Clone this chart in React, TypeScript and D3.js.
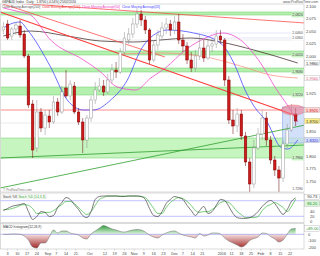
import React from "react";
import * as d3 from "d3";

const FONT = "'Liberation Sans', Arial, sans-serif";

// ---------------- data ----------------
const firstCandle = "2015-07-31";
const candleStepDays = 3;
const xDomain = ["2015-07-30", "2016-02-27"];

const opens = [
  2.052, 2.064, 2.040, 2.054, 2.060, 2.044, 2.000, 1.904, 1.816, 1.888,
  1.856, 1.880, 1.868, 1.908, 1.888, 1.936, 1.920, 1.940, 1.888, 1.868,
  1.832, 1.876, 1.912, 1.932, 1.940, 1.928, 1.952, 1.972, 1.968, 2.008,
  2.032, 2.044, 2.064, 2.084, 2.072, 2.052, 1.992, 2.022, 2.040, 2.056,
  2.064, 2.052, 2.068, 2.032, 2.020, 1.992, 1.976, 2.000, 2.016, 1.996,
  2.020, 2.024, 2.040, 2.032, 1.952, 1.872, 1.860, 1.884, 1.840, 1.788,
  1.744, 1.816, 1.844, 1.876, 1.832, 1.792, 1.772, 1.756, 1.824, 1.852,
  1.884,
];
const highs = [
  2.068, 2.072, 2.058, 2.068, 2.072, 2.052, 2.004, 1.912, 1.912, 1.896,
  1.892, 1.892, 1.920, 1.916, 1.940, 1.972, 1.952, 1.948, 1.896, 1.876,
  1.882, 1.920, 1.948, 1.956, 1.952, 1.964, 1.984, 1.988, 2.016, 2.048,
  2.056, 2.076, 2.096, 2.092, 2.080, 2.056, 2.032, 2.052, 2.068, 2.076,
  2.072, 2.080, 2.084, 2.044, 2.028, 2.008, 2.012, 2.044, 2.032, 2.032,
  2.036, 2.052, 2.052, 2.036, 1.960, 1.892, 1.896, 1.892, 1.848, 1.796,
  1.832, 1.856, 1.892, 1.888, 1.840, 1.800, 1.780, 1.832, 1.864, 1.904,
  1.896,
];
const lows = [
  2.044, 2.032, 2.032, 2.042, 2.036, 1.996, 1.896, 1.796, 1.808, 1.848,
  1.842, 1.856, 1.864, 1.880, 1.884, 1.916, 1.912, 1.884, 1.862, 1.806,
  1.816, 1.868, 1.904, 1.928, 1.920, 1.924, 1.944, 1.956, 1.964, 2.000,
  2.024, 2.036, 2.056, 2.060, 2.044, 1.984, 1.988, 2.012, 2.032, 2.044,
  2.040, 2.044, 2.024, 2.008, 1.984, 1.968, 1.968, 1.992, 1.988, 1.992,
  2.008, 2.016, 2.024, 1.940, 1.864, 1.844, 1.848, 1.832, 1.780, 1.728,
  1.736, 1.812, 1.832, 1.820, 1.784, 1.760, 1.728, 1.748, 1.816, 1.848,
  1.860,
];
const closes = [
  2.058, 2.036, 2.054, 2.062, 2.042, 2.000, 1.902, 1.812, 1.888, 1.856,
  1.882, 1.868, 1.908, 1.888, 1.928, 1.920, 1.944, 1.888, 1.868, 1.832,
  1.876, 1.912, 1.932, 1.940, 1.928, 1.952, 1.972, 1.968, 2.008, 2.036,
  2.044, 2.064, 2.084, 2.072, 2.052, 1.992, 2.022, 2.042, 2.056, 2.064,
  2.052, 2.068, 2.032, 2.020, 1.992, 1.976, 2.000, 2.016, 1.996, 2.020,
  2.024, 2.040, 2.032, 1.952, 1.872, 1.860, 1.884, 1.840, 1.788, 1.744,
  1.816, 1.844, 1.876, 1.832, 1.792, 1.772, 1.756, 1.824, 1.852, 1.884,
  1.870,
];

// moving averages: [candle index, price]
const ma20: [number, number][] = [
  [0, 2.056], [1.7, 2.064], [4, 2.068], [5.8, 2.052], [11.3, 1.978], [15.3, 1.912],
  [19.2, 1.892], [21.6, 1.892], [25.7, 1.912], [29.7, 1.952], [32.9, 2.012], [36, 2.042],
  [39.3, 2.052], [45.6, 2.046], [52, 2.026], [55.2, 1.986], [58, 1.93], [60, 1.9],
  [63.3, 1.866], [66.4, 1.818], [68.1, 1.814], [70.5, 1.832],
];
const ma50: [number, number][] = [
  [0, 2.096], [4, 2.088], [6.5, 2.082], [11.3, 2.032], [19.2, 1.992], [23.3, 1.968],
  [27.3, 1.938], [31.7, 1.932], [35.3, 1.956], [38.8, 1.976], [43.6, 2.012], [48.4, 2.036],
  [52.5, 2.046], [56.8, 2.032], [61.6, 1.986], [65.2, 1.936], [68.8, 1.892], [70.5, 1.868],
];
const ma100: [number, number][] = [
  [28, 2.004], [37.6, 2.006], [47.2, 2.0], [56.8, 1.98], [64, 1.962], [70.5, 1.956],
];
const ma200: [number, number][] = [
  [0, 2.04], [6.5, 2.05], [15.3, 2.04], [23.3, 2.03], [31.2, 2.028], [37.6, 2.032],
  [44.8, 2.036], [52, 2.028], [60, 2.012], [70.5, 1.986],
];

// trend lines: [[idx, price], [idx, price]]
const redTrends: [number, number][][] = [
  [[-0.8, 2.088], [70.4, 1.88]],
  [[-0.8, 2.106], [38.7, 1.998]],
  [[-0.8, 2.108], [72.3, 2.066]],
];
const greenTrends: [number, number][][] = [
  [[-0.8, 1.736], [72.3, 1.862]],
  [[-0.8, 1.796], [72.3, 1.822]],
];

const bandLows = [2.082, 2.002, 1.968, 1.922, 1.796];
const bandHighs = [2.088, 2.010, 1.976, 1.938, 1.836];
const redLevel = 1.892;
const dottedLevels = [2.032, 1.866];
const fibLevels = [2.046, 2.036];
const boxIdx = [66.8, 72.3];
const boxPrice = [1.826, 1.898];
const ovalIdx = [66.6, 72.3];
const ovalPrice = [1.882, 1.902];

const priceTicks = [2.1, 2.075, 2.05, 2.025, 2.0, 1.975, 1.95, 1.925, 1.9, 1.875, 1.85, 1.825, 1.8, 1.775, 1.75];

const stochK = [
  42, 50, 58, 62, 65, 69, 38, 8, 19, 38,
  35, 19, 23, 54, 73, 92, 85, 65, 46, 23,
  15, 38, 85, 96, 98, 98, 98, 98, 96, 96,
  98, 98, 98, 96, 85, 50, 23, 19, 38, 69,
  85, 96, 92, 85, 62, 42, 23, 42, 58, 31,
  38, 62, 85, 81, 58, 31, 15, 12, 12, 15,
  23, 38, 58, 73, 81, 69, 46, 27, 46, 77,
  90.73,
];
const stochD = [
  46, 46, 50, 54, 62, 65, 62, 50, 31, 31,
  35, 35, 42, 54, 65, 77, 77, 69, 54, 38,
  27, 38, 62, 85, 92, 98, 98, 98, 98, 98,
  98, 98, 98, 96, 92, 73, 50, 31, 31, 54,
  73, 85, 92, 88, 77, 62, 42, 35, 38, 38,
  46, 58, 73, 77, 73, 58, 38, 27, 15, 15,
  15, 19, 42, 58, 65, 73, 65, 54, 38, 58,
  86.2,
];
const stochTicks = [0, 20, 40, 60, 80];

const macdHist = [
  0, 0, 0.0005, 0.0005, 0, -0.0026, -0.0088, -0.0195, -0.0211, -0.0134,
  -0.0134, -0.0042, 0.0066, 0.002, 0.0051, 0.0051, 0.002, 0.0005, -0.0011, -0.0057,
  -0.0072, 0.0005, 0.0051, 0.0097, 0.0135, 0.0112, 0.0082, 0.0066, 0.0043, 0.0035,
  0.0051, 0.0066, 0.0074, 0.0066, 0.0035, -0.0011, -0.0042, -0.0057, -0.0011, 0.002,
  0.0043, 0.0051, 0.002, -0.0011, -0.0026, -0.0042, -0.0057, 0.0012, -0.0026, -0.0011,
  0.002, 0.002, 0.0005, -0.0057, -0.0103, -0.0134, -0.0165, -0.0195, -0.0165, -0.0095,
  -0.0065, -0.0042, 0.002, 0.0012, -0.0034, -0.0072, -0.0118, -0.0088, 0.0005, 0.0082,
  0.0089,
];
const macdTicks = [0, -0.01, -0.02];
const macdTickLabels = ["0", "-100", "-200"];

const xTickDates = [
  "2015-08-03", "2015-08-10", "2015-08-17", "2015-08-24", "2015-09-01", "2015-09-07", "2015-09-14",
  "2015-09-21", "2015-10-01", "2015-10-12", "2015-10-19", "2015-10-26", "2015-11-02", "2015-11-09",
  "2015-11-16", "2015-11-23", "2015-12-01", "2015-12-07", "2015-12-14", "2015-12-21", "2016-01-04",
  "2016-01-11", "2016-01-18", "2016-01-25", "2016-02-01", "2016-02-08", "2016-02-15", "2016-02-22",
];
const xTickLabels = [
  "3", "10", "17", "24", "Sep", "7", "14", "21", "Oct", "12", "19", "26", "Nov", "9",
  "16", "23", "Dec", "7", "14", "21", "2016", "11", "18", "25", "Feb", "8", "15", "22",
];

const legendNames = [
  "Close Moving Average[200]",
  "Close Moving Average[100]",
  "Close Moving Average[50]",
  "Close Moving Average[20]",
];
const legendColors = ["#555555", "#ee3333", "#ee44cc", "#4444ff"];

// ---------------- component ----------------
export default function App() {
  const parse = d3.timeParse("%Y-%m-%d");
  const start = parse(firstCandle) as Date;
  const x = d3
    .scaleTime()
    .domain([parse(xDomain[0]) as Date, parse(xDomain[1]) as Date])
    .range([2, 297]);
  const dateAt = (i: number) => new Date(start.getTime() + i * candleStepDays * 86400000);
  const xi = (i: number) => x(dateAt(i));
  const y = d3.scaleLinear().domain([1.728, 2.104]).range([192, 4]);
  const ys = d3.scaleLinear().domain([0, 100]).range([221.5, 195.5]);
  const ym = d3.scaleLinear().domain([-0.022, 0.016]).range([248.6, 223.9]);

  const PL = 0.5;
  const PR = 304;
  const MT = 4;
  const MB = 192;

  const maLine = d3
    .line<[number, number]>()
    .x((d) => xi(d[0]))
    .y((d) => y(d[1]))
    .curve(d3.curveMonotoneX);
  const straight = d3
    .line<[number, number]>()
    .x((d) => xi(d[0]))
    .y((d) => y(d[1]));

  const stLine = (arr: number[]) =>
    d3
      .line<number>()
      .x((_, i) => xi(i))
      .y((d) => ys(d))
      .curve(d3.curveMonotoneX)(arr) as string;

  const macdArea = d3
    .area<number>()
    .x((_, i) => xi(i))
    .y0(ym(0))
    .y1((d) => ym(d))
    .curve(d3.curveMonotoneX)(macdHist) as string;
  const macdLine = d3
    .line<number>()
    .x((_, i) => xi(i))
    .y((d) => ym(d))
    .curve(d3.curveMonotoneX)(macdHist) as string;

  const fmt4 = d3.format(".4f");
  const fmt3 = d3.format(".3f");

  const axisLabel = (yy: number, text: string, bg: string, fg: string, key: string) => (
    <g key={key}>
      <rect x={304.6} y={yy - 2.7} width={15.2} height={5.4} fill={bg} stroke="#999" strokeWidth={0.3} />
      <text x={312.2} y={yy + 1.5} fontSize={4} textAnchor="middle" fill={fg} fontFamily={FONT}>
        {text}
      </text>
    </g>
  );
  const inLabel = (yy: number, text: string, bg: string, fg: string, key: string) => (
    <g key={key}>
      <rect x={291.5} y={yy - 2.4} width={12.3} height={4.8} fill={bg} />
      <text x={297.6} y={yy + 1.3} fontSize={3.5} textAnchor="middle" fill={fg} fontFamily={FONT}>
        {text}
      </text>
    </g>
  );

  const lastI = closes.length - 1;
  const lastMa20 = ma20[ma20.length - 1][1];
  const lastMa100 = ma100[ma100.length - 1][1];
  const lastMa200 = ma200[ma200.length - 1][1];

  const priceMarks = [lastMa200, lastMa100, redLevel, closes[lastI], lastMa20].map((p) => y(p));
  const freePriceTicks = priceTicks.filter((p) => priceMarks.every((m) => Math.abs(y(p) - m) > 5.6));
  const stK = ys(stochK[lastI]) - 1;
  const stD = ys(stochD[lastI]) + 4.4;
  const freeStochTicks = stochTicks.filter((t) => [stK, stD].every((m) => Math.abs(ys(t) - m) > 5.4));
  const mhY = ym(macdHist[lastI]);
  const freeMacd = macdTicks.map((t, i) => ({ t, l: macdTickLabels[i] })).filter((o) => Math.abs(ym(o.t) - mhY) > 5.4);

  return (
    <svg
      width={320}
      height={256}
      viewBox="0 0 320 256"
      style={{ position: "absolute", left: 0, top: 0, background: "#fff" }}
      fontFamily={FONT}
    >
      <defs>
        <clipPath id="mainClip">
          <rect x={PL} y={MT} width={PR - PL} height={MB - MT} />
        </clipPath>
        <clipPath id="upClip">
          <rect x={PL} y={222} width={PR - PL} height={ym(0) - 222} />
        </clipPath>
        <clipPath id="dnClip">
          <rect x={PL} y={ym(0)} width={PR - PL} height={250 - ym(0)} />
        </clipPath>
        <linearGradient id="gUp" gradientUnits="userSpaceOnUse" x1={0} x2={0} y1={ym(0.014)} y2={ym(0)}>
          <stop offset="0" stopColor="#2f9a3a" />
          <stop offset="1" stopColor="#e2f6e2" />
        </linearGradient>
        <linearGradient id="gDn" gradientUnits="userSpaceOnUse" x1={0} x2={0} y1={ym(0)} y2={ym(-0.021)}>
          <stop offset="0" stopColor="#f6e0e0" />
          <stop offset="1" stopColor="#a32b2b" />
        </linearGradient>
      </defs>

      <rect x={0} y={0} width={320} height={256} fill="#ffffff" />

      {/* ---------- main panel ---------- */}
      <g clipPath="url(#mainClip)">
        {bandLows.map((lo, i) => (
          <g key={"band" + i}>
            <rect
              x={PL}
              y={y(bandHighs[i])}
              width={PR - PL}
              height={y(lo) - y(bandHighs[i])}
              fill={i === 4 ? "#c6f5c0" : "#b4f0ae"}
            />
            <line x1={PL} x2={PR} y1={y(bandHighs[i])} y2={y(bandHighs[i])} stroke="#6cc86c" strokeWidth={0.5} />
            <line x1={PL} x2={PR} y1={y(lo)} y2={y(lo)} stroke="#6cc86c" strokeWidth={0.5} />
          </g>
        ))}
        {dottedLevels.map((p, i) => (
          <line key={"dot" + i} x1={PL} x2={PR} y1={y(p)} y2={y(p)} stroke="#aaaaaa" strokeWidth={0.5} strokeDasharray="1,1" />
        ))}
        {fibLevels.map((p, i) => (
          <line key={"fib" + i} x1={xi(46)} x2={PR} y1={y(p)} y2={y(p)} stroke="#9999ee" strokeWidth={0.5} strokeDasharray="1,1" />
        ))}
        <line x1={PL} x2={PR} y1={y(redLevel)} y2={y(redLevel)} stroke="#ff7070" strokeWidth={0.8} />

        <rect
          x={xi(boxIdx[0])}
          y={y(boxPrice[1])}
          width={xi(boxIdx[1]) - xi(boxIdx[0])}
          height={y(boxPrice[0]) - y(boxPrice[1])}
          fill="#c4d6f7"
          fillOpacity={0.75}
          stroke="#7f9fe0"
          strokeWidth={0.5}
        />

        <path d={maLine(ma200) as string} fill="none" stroke="#4a3636" strokeWidth={0.8} />
        <path d={maLine(ma100) as string} fill="none" stroke="#ff8a7a" strokeWidth={0.7} />
        <path d={maLine(ma50) as string} fill="none" stroke="#f04ccc" strokeWidth={0.8} />
        <path d={maLine(ma20) as string} fill="none" stroke="#4a4aff" strokeWidth={0.8} />

        {redTrends.map((t, i) => (
          <path key={"rt" + i} d={straight(t) as string} fill="none" stroke="#ff3a3a" strokeWidth={i === 0 ? 1.1 : 0.7} />
        ))}
        {greenTrends.map((t, i) => (
          <path key={"gt" + i} d={straight(t) as string} fill="none" stroke="#2ea02e" strokeWidth={0.8} />
        ))}

        {closes.map((c, i) => {
          const o = opens[i];
          const up = c >= o;
          const cx = xi(i);
          const top = y(Math.max(o, c));
          const h = Math.max(0.7, Math.abs(y(o) - y(c)));
          return (
            <g key={"c" + i}>
              <line x1={cx} x2={cx} y1={y(highs[i])} y2={y(lows[i])} stroke={up ? "#8f8f8f" : "#6a0000"} strokeWidth={0.5} />
              <rect
                x={cx - 1.3}
                y={top}
                width={2.6}
                height={h}
                fill={up ? "#ffffff" : "#cc1b1b"}
                stroke={up ? "#8f8f8f" : "#7a0000"}
                strokeWidth={0.45}
              />
            </g>
          );
        })}

        <ellipse
          cx={(xi(ovalIdx[0]) + xi(ovalIdx[1])) / 2}
          cy={(y(ovalPrice[0]) + y(ovalPrice[1])) / 2}
          rx={(xi(ovalIdx[1]) - xi(ovalIdx[0])) / 2}
          ry={(y(ovalPrice[0]) - y(ovalPrice[1])) / 2}
          fill="#f07a8a"
          fillOpacity={0.55}
          stroke="#e05060"
          strokeWidth={0.4}
        />
      </g>
      <rect x={PL} y={MT} width={PR - PL} height={MB - MT} fill="none" stroke="#c4c4c4" strokeWidth={0.6} />

      {/* in-plot labels */}
      {bandLows.map((lo, i) => inLabel(y(lo), fmt4(lo), "#c9f3c4", "#444", "bl" + i))}
      {fibLevels.map((p, i) => inLabel(y(p), fmt4(p), "#ffffff", "#555", "fl" + i))}
      {inLabel(y(d3.min(lows) as number) - 3, fmt4(d3.min(lows) as number), "#ffffff", "#555", "minl")}

      {/* price axis */}
      {freePriceTicks.map((p) => (
        <text key={"pt" + p} x={306} y={y(p) + 1.5} fontSize={4} fill="#444">
          {fmt3(p)}
        </text>
      ))}
      {axisLabel(y(lastMa200), fmt4(lastMa200), "#ffffff", "#333", "al200")}
      {axisLabel(y(lastMa100), fmt4(lastMa100), "#ffffff", "#e0607a", "al100")}
      {axisLabel(y(redLevel), fmt4(redLevel), "#ffd6d6", "#cc2222", "alred")}
      {axisLabel(y(closes[lastI]), fmt4(closes[lastI]), "#fff08a", "#333", "alclose")}
      {axisLabel(y(lastMa20), fmt4(lastMa20), "#d6deff", "#3333cc", "al20")}

      {/* header */}
      <text x={2} y={3.4} fontSize={3.4} fill="#333" textLength={74} lengthAdjust="spacingAndGlyphs">
        GBPAUD Index · Daily · 1.8700 (-0.54%) 25/02/2016
      </text>
      <text x={318} y={3.4} fontSize={3.4} fill="#555" textAnchor="end">
        www.ProRealTime.com
      </text>
      {legendNames.map((n, i) => (
        <text
          key={"lg" + i}
          x={2 + i * 40}
          y={8.2}
          fontSize={3.3}
          fill={legendColors[i]}
          textLength={38}
          lengthAdjust="spacingAndGlyphs"
        >
          {n}
        </text>
      ))}
      <text x={3} y={190.6} fontSize={3.2} fill="#777">
        © ProRealTime.com
      </text>

      {/* ---------- stochastic panel ---------- */}
      <rect x={PL} y={193} width={PR - PL} height={29.5} fill="#fff" stroke="#c4c4c4" strokeWidth={0.6} />
      <line x1={PL} x2={PR} y1={ys(80)} y2={ys(80)} stroke="#9a9aff" strokeWidth={0.6} />
      <line x1={PL} x2={PR} y1={ys(20)} y2={ys(20)} stroke="#9a9aff" strokeWidth={0.6} />
      <path d={stLine(stochD)} fill="none" stroke="#3fb83f" strokeWidth={0.7} />
      <path d={stLine(stochK)} fill="none" stroke="#404040" strokeWidth={0.7} />
      <rect x={2} y={194.3} width={44} height={4.6} fill="#fff" stroke="#cfcfcf" strokeWidth={0.3} />
      <text x={3} y={197.8} fontSize={3.3}>
        <tspan fill="#333">Stoch %K</tspan>
        <tspan fill="#2e9e2e"> Stoch %D (14,3,3)</tspan>
      </text>
      {freeStochTicks.map((t) => (
        <text key={"st" + t} x={310} y={ys(t) + 1.4} fontSize={4} fill="#444">
          {t}
        </text>
      ))}
      {axisLabel(stK, d3.format(".2f")(stochK[lastI]), "#ffffff", "#333", "sk")}
      {axisLabel(stD, d3.format(".2f")(stochD[lastI]), "#d8f5d8", "#2e8e2e", "sd")}

      {/* ---------- MACD panel ---------- */}
      <rect x={PL} y={223.5} width={PR - PL} height={25.5} fill="#fff" stroke="#c4c4c4" strokeWidth={0.6} />
      <path d={macdArea} fill="url(#gUp)" clipPath="url(#upClip)" />
      <path d={macdArea} fill="url(#gDn)" clipPath="url(#dnClip)" />
      <line x1={PL} x2={PR} y1={ym(0)} y2={ym(0)} stroke="#8f8fe8" strokeWidth={0.6} />
      <path d={macdLine} fill="none" stroke="#6b6b6b" strokeWidth={0.5} />
      <rect x={2} y={224.6} width={28} height={4.6} fill="#fff" stroke="#cfcfcf" strokeWidth={0.3} />
      <text x={3} y={228.1} fontSize={3.3} fill="#333">
        MACD histogram(12,26,9)
      </text>
      {freeMacd.map((o, i) => (
        <text key={"mt" + i} x={308} y={ym(o.t) + 1.4} fontSize={4} fill="#444">
          {o.l}
        </text>
      ))}
      {axisLabel(mhY, d3.format("+.2f")(macdHist[lastI] * 10000), "#ffffff", "#2e8e2e", "mh")}

      {/* ---------- x axis ---------- */}
      {xTickDates.map((d, i) => {
        const xx = x(parse(d) as Date);
        return (
          <g key={"xt" + i}>
            <line x1={xx} x2={xx} y1={249} y2={250.5} stroke="#999" strokeWidth={0.4} />
            <text x={xx} y={254.5} fontSize={3.8} textAnchor="middle" fill="#444">
              {xTickLabels[i]}
            </text>
          </g>
        );
      })}
    </svg>
  );
}
